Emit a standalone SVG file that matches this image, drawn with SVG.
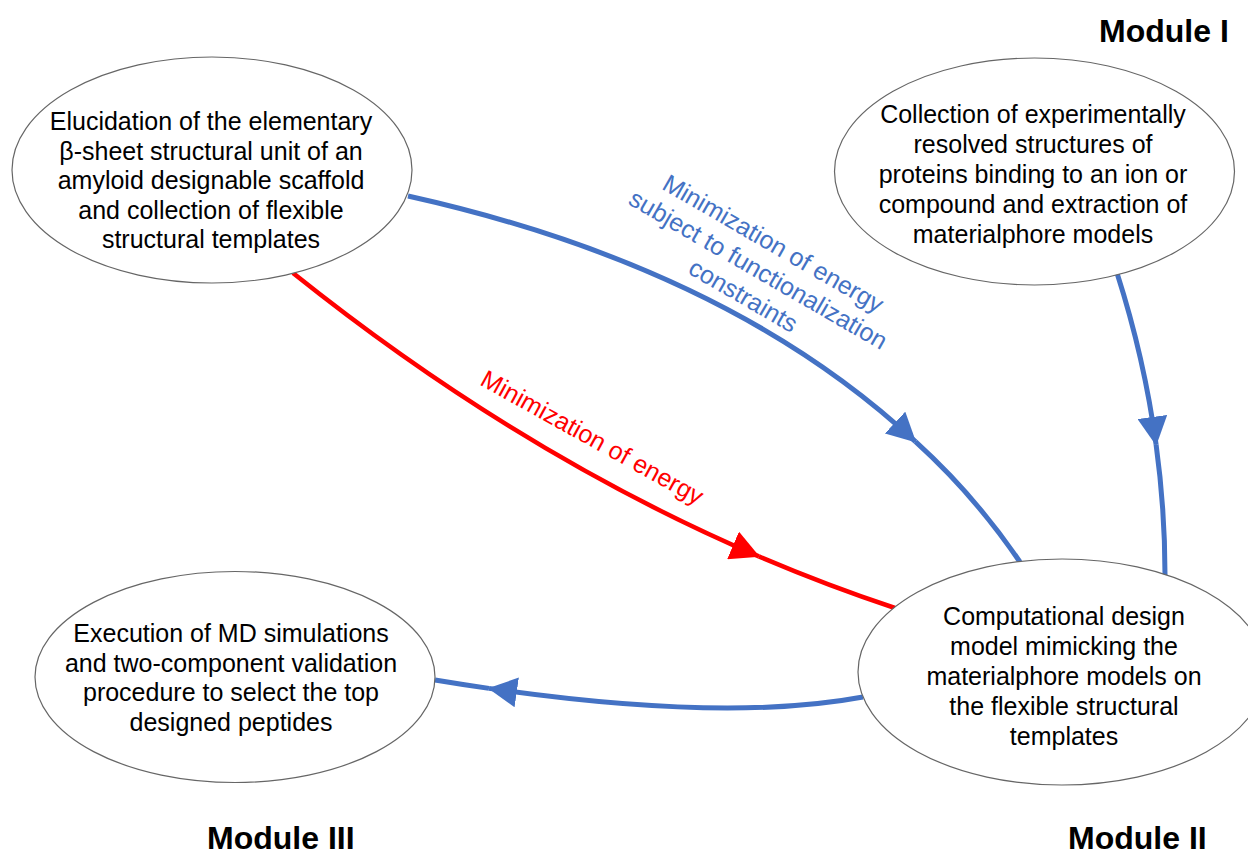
<svg xmlns="http://www.w3.org/2000/svg" width="1248" height="855" viewBox="0 0 1248 855">
<style>
.node ellipse{fill:#fff;stroke:#666;stroke-width:1.2}
.node text,.lbl text{font-family:"Liberation Sans",Arial,sans-serif;font-size:25px;text-anchor:middle}
.node text{fill:#000}
.mod{font-family:"Liberation Sans",Arial,sans-serif;font-size:32px;font-weight:bold;fill:#000}
.blue{fill:none;stroke:#4472C4;stroke-width:5}
.red{fill:none;stroke:#FF0000;stroke-width:4.5}
</style>
<defs>
<marker id="ab" markerUnits="userSpaceOnUse" viewBox="0 0 29 30" markerWidth="29" markerHeight="30" refX="28" refY="15" orient="auto"><path d="M0,0 L29,15 L0,30 Z" fill="#4472C4"/></marker>
<marker id="ar" markerUnits="userSpaceOnUse" viewBox="0 0 29 30" markerWidth="29" markerHeight="30" refX="28" refY="15" orient="auto"><path d="M0,0 L29,15 L0,30 Z" fill="#FF0000"/></marker>
</defs>
<rect width="1248" height="855" fill="#fff"/>
<g id="connectors">
<path class="blue" d="M408,196 Q728.7,267.4 915.5,441.7" marker-end="url(#ab)"/>
<path class="blue" d="M915.5,441.7 Q974.4,495.1 1020,562"/>
<path class="red" d="M293,273 Q519.2,454 758.8,556.4" marker-end="url(#ar)"/>
<path class="red" d="M758.8,556.4 Q826.4,585.3 895,608"/>
<path class="blue" d="M1117,273 Q1144.4,358.5 1156.1,444.7" marker-end="url(#ab)"/>
<path class="blue" d="M1156.1,444.7 Q1165,509.6 1165,575"/>
<path class="blue" d="M863,697 Q726.2,722.65 489,688.4" marker-end="url(#ab)"/>
<path class="blue" d="M489,688.4 Q462.6,684.6 435,680"/>
</g>
<g id="label-blue" class="lbl" transform="translate(758,270) rotate(30)">
<text x="0" y="-22" fill="#4472C4">Minimization of energy</text>
<text x="0" y="8" fill="#4472C4">subject to functionalization</text>
<text x="0" y="38" fill="#4472C4">constraints</text>
</g>
<g id="label-red" class="lbl" transform="translate(592,438) rotate(29)">
<text x="0" y="8" fill="#FF0000">Minimization of energy</text>
</g>
<g id="node1" class="node">
<ellipse cx="212" cy="170" rx="200" ry="113"/>
<text x="211" y="130">Elucidation of the elementary</text>
<text x="211" y="159.5">β-sheet structural unit of an</text>
<text x="211" y="189">amyloid designable scaffold</text>
<text x="211" y="218.5">and collection of flexible</text>
<text x="211" y="248">structural templates</text>
</g>
<g id="node2" class="node">
<ellipse cx="1034.5" cy="171.5" rx="200" ry="113.5"/>
<text x="1033" y="123">Collection of experimentally</text>
<text x="1033" y="153">resolved structures of</text>
<text x="1033" y="183">proteins binding to an ion or</text>
<text x="1033" y="213">compound and extraction of</text>
<text x="1033" y="243">materialphore models</text>
</g>
<g id="node3" class="node">
<ellipse cx="235" cy="677" rx="200" ry="105.5"/>
<text x="231" y="642">Execution of MD simulations</text>
<text x="231" y="671.5">and two-component validation</text>
<text x="231" y="701">procedure to select the top</text>
<text x="231" y="730.5">designed peptides</text>
</g>
<g id="node4" class="node">
<ellipse cx="1062" cy="672" rx="204" ry="113"/>
<text x="1064" y="625">Computational design</text>
<text x="1064" y="655">model mimicking the</text>
<text x="1064" y="685">materialphore models on</text>
<text x="1064" y="715">the flexible structural</text>
<text x="1064" y="745">templates</text>
</g>
<g id="modules">
<text class="mod" x="1099" y="42">Module I</text>
<text class="mod" x="1068" y="849">Module II</text>
<text class="mod" x="207" y="849">Module III</text>
</g>
</svg>
